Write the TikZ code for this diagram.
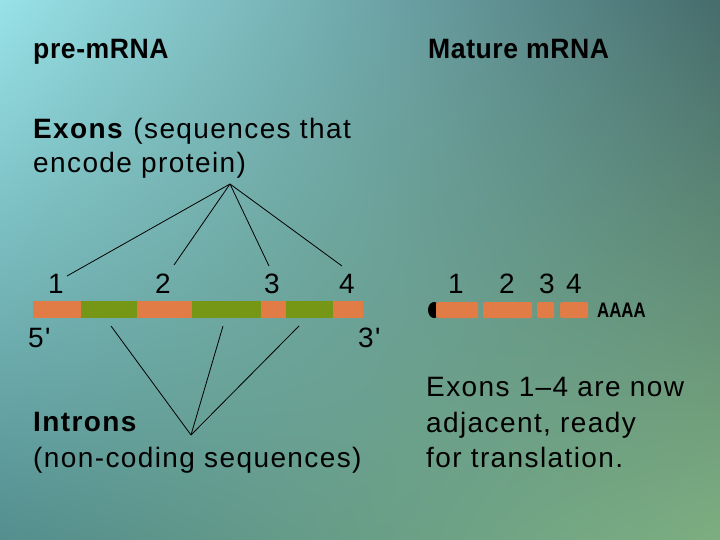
\documentclass[tikz,border=0pt]{standalone}
\usepackage{fontspec}
\usetikzlibrary{shadings}
\setmainfont{Liberation Sans}
\newfontfamily\headfont{Liberation Sans}[FakeStretch=0.95,LetterSpace=2]
\newfontfamily\bodyfont{Liberation Sans}[LetterSpace=5]
\newfontfamily\polyafont{Liberation Sans}[FakeStretch=0.8]
\definecolor{bgul}{RGB}{152,226,232}
\definecolor{bgur}{RGB}{70,108,108}
\definecolor{bgll}{RGB}{84,142,142}
\definecolor{bglr}{RGB}{125,174,128}
\definecolor{exoncol}{RGB}{226,124,70}
\definecolor{introncol}{RGB}{118,150,22}
\tikzset{
  txt/.style={inner sep=0pt,anchor=base west,font=\bodyfont\fontsize{28}{34}\selectfont},
  head/.style={inner sep=0pt,anchor=base west,font=\headfont\bfseries\fontsize{28}{32}\selectfont},
  num/.style={inner sep=0pt,anchor=base,font=\bodyfont\fontsize{28}{30}\selectfont},
  pointer/.style={draw=black,line width=0.8pt},
  exonbox/.style={fill=exoncol},
  intronbox/.style={fill=introncol}
}
\begin{document}
\begin{tikzpicture}[x=1pt,y=-1pt]
  % background
  \shade[upper left=bgul,upper right=bgur,lower left=bgll,lower right=bglr]
    (0,0) rectangle (720,540);
  \useasboundingbox (0,0) rectangle (720,540);

  % headings
  \node[head] (pre) at (33,59) {pre-mRNA};
  \node[head] (mature) at (428,59) {Mature mRNA};

  % exon label
  \node[txt] (exlabA) at (33,139) {\textbf{Exons} (sequences that};
  \node[txt] (exlabB) at (33,173) {encode protein)};

  % pre-mRNA strand
  \foreach \a/\b in {33/81,137/192,261/286,333/363}
    \fill[exonbox] (\a,301) rectangle (\b,318);
  \foreach \a/\b in {81/137,192/261,286/333}
    \fill[intronbox] (\a,301) rectangle (\b,318);

  \node[num] (n1) at (56,293) {1};
  \node[num] (n2) at (163,293) {2};
  \node[num] (n3) at (272,293) {3};
  \node[num] (n4) at (347,293) {4};
  \node[txt] (five) at (28,347) {5'};
  \node[txt] (three) at (358,347) {3'};

  % exon pointers
  \coordinate (exhub) at (230,184);
  \coordinate (e1) at (67,276);
  \coordinate (e2) at (174,265);
  \coordinate (e3) at (269,266);
  \coordinate (e4) at (342,266);
  \draw[pointer] (exhub) -- (e1);
  \draw[pointer] (exhub) -- (e2);
  \draw[pointer] (exhub) -- (e3);
  \draw[pointer] (exhub) -- (e4);

  % intron pointers
  \coordinate (inhub) at (191,435);
  \coordinate (i1) at (111,326);
  \coordinate (i2) at (223,326);
  \coordinate (i3) at (299,326);
  \draw[pointer] (i1) -- (inhub);
  \draw[pointer] (i2) -- (inhub);
  \draw[pointer] (i3) -- (inhub);

  % intron label
  \node[txt] (inlabA) at (33,431) {\textbf{Introns}};
  \node[txt] (inlabB) at (33,467) {(non-coding sequences)};

  % mature mRNA strand
  \fill[black] (434,310) ellipse [x radius=6,y radius=8];
  \foreach \a/\b in {436/478,483/532,537/554,560/588}
    \fill[exonbox,rounded corners=1.5pt] (\a,302) rectangle (\b,318);
  \node[num] (m1) at (456,293) {1};
  \node[num] (m2) at (507,293) {2};
  \node[num] (m3) at (547,293) {3};
  \node[num] (m4) at (574,293) {4};
  \node[inner sep=0pt,anchor=base west,font=\polyafont\bfseries\fontsize{21}{24}\selectfont] (polya) at (597,317) {AAAA};

  % result text
  \node[txt] (resA) at (426,396) {Exons 1\textendash 4 are now};
  \node[txt] (resB) at (426,432) {adjacent, ready};
  \node[txt] (resC) at (426,467) {for translation.};
\end{tikzpicture}
\end{document}
